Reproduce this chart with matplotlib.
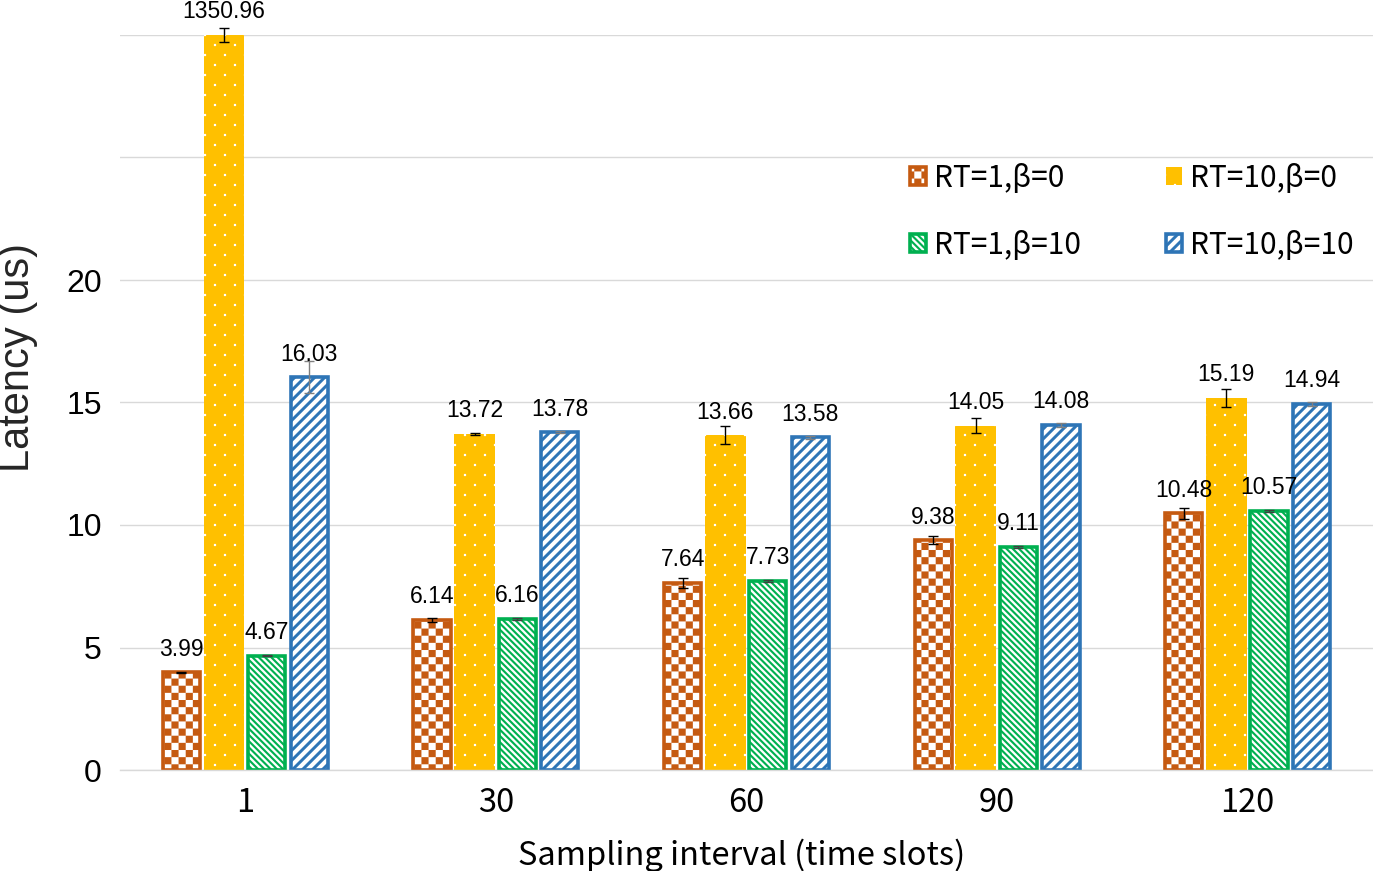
import numpy as np
import matplotlib
matplotlib.use("Agg")
import matplotlib.pyplot as plt
import matplotlib.hatch as mhatch
from matplotlib.path import Path

# ---------------- data ----------------
categories = ["1", "30", "60", "90", "120"]
series_names = ["RT=1,β=0", "RT=10,β=0", "RT=1,β=10", "RT=10,β=10"]
rt1_b0 = [3.99, 6.14, 7.64, 9.38, 10.48]
rt10_b0 = [1350.96, 13.72, 13.66, 14.05, 15.19]
rt1_b10 = [4.67, 6.16, 7.73, 9.11, 10.57]
rt10_b10 = [16.03, 13.78, 13.58, 14.08, 14.94]
err_rt1_b0 = [0.03, 0.08, 0.20, 0.17, 0.22]
err_rt10_b0 = [0.30, 0.03, 0.37, 0.30, 0.37]
err_rt1_b10 = [0.03, 0.03, 0.04, 0.04, 0.04]
err_rt10_b10 = [0.65, 0.04, 0.05, 0.07, 0.07]
ytick_values = [0, 5, 10, 15, 20, 25, 30]
ytick_labels = ["0", "5", "10", "15", "20", "", ""]

# ---------------- custom hatch patterns ----------------
def _polys_to_path(polys):
    verts, codes = [], []
    for p in polys:
        verts.extend(p)
        verts.append(p[0])
        codes.extend([Path.MOVETO] + [Path.LINETO] * (len(p) - 1) + [Path.CLOSEPOLY])
    return np.array(verts, float), np.array(codes, Path.code_type)


class _CustomHatch(mhatch.HatchPatternBase):
    key = ""

    def __init__(self, hatch, density):
        if self.key and self.key in hatch:
            self._v, self._c = _polys_to_path(self.polys())
        else:
            self._v, self._c = np.empty((0, 2)), np.empty(0, Path.code_type)
        self.num_vertices = len(self._v)

    def set_vertices_and_codes(self, vertices, codes):
        vertices[:] = self._v
        codes[:] = self._c


class Checker(_CustomHatch):
    key = "o"

    def polys(self):
        n = 14
        out = []
        for i in range(n):
            for j in range(n):
                if (i + j) % 2 == 0:
                    out.append([(i / n, j / n), ((i + 1) / n, j / n),
                                ((i + 1) / n, (j + 1) / n), (i / n, (j + 1) / n)])
        return out


class Dots(_CustomHatch):
    key = "."

    def polys(self):
        R, C, s = 10, 5, 0.011
        out = []
        for r in range(R):
            y = (r + 0.5) / R
            for c in range(C):
                x = ((c + 0.25 + 0.5 * (r % 2)) / C) % 1.0
                out.append([(x - s, y - s), (x + s, y - s), (x + s, y + s), (x - s, y + s)])
        return out


class BandsNE(_CustomHatch):
    key = "/"

    def polys(self):
        n, w = 10, 0.042
        return [[(k / n, 0), (k / n + w, 0), (k / n + w + 1, 1), (k / n + 1, 1)]
                for k in range(-n - 1, n + 1)]


class BandsNW(_CustomHatch):
    key = "\\"

    def polys(self):
        n, w = 16, 0.030
        return [[(k / n, 1), (k / n + w, 1), (k / n + w + 1, 0), (k / n + 1, 0)]
                for k in range(-n - 1, n + 1)]


mhatch._hatch_types = [Checker, Dots, BandsNE, BandsNW]
plt.rcParams["hatch.linewidth"] = 0.01

SANS = ["Liberation Sans", "DejaVu Sans"]
CJK = ["Noto Sans CJK SC", "DejaVu Sans"]

# ---------------- figure ----------------
W, H = 1373, 871
fig = plt.figure(figsize=(W / 100, H / 100), dpi=100)
ax = fig.add_axes([120 / W, (H - 770) / H, (W - 120) / W, (770 - 35) / H])

YMAX = 30
x = np.arange(len(categories))
pitch = 0.170

colors = ["#C55A11", "#FFC000", "#00B050", "#2E75B6"]
hatches = ["o", ".", "\\", "/"]
values = [rt1_b0, rt10_b0, rt1_b10, rt10_b10]
errors = [err_rt1_b0, err_rt10_b0, err_rt1_b10, err_rt10_b10]
err_colors = ["black", "black", "#404040", "#7f7f7f"]

handles = []
for i, (vals, errs, col, hat) in enumerate(zip(values, errors, colors, hatches)):
    pos = x + (i - 1.5) * pitch
    if i == 1:
        b = ax.bar(pos, vals, width=0.163, color=col, edgecolor="white",
                   linewidth=0, hatch=hat, label=series_names[i], zorder=2)
    else:
        b = ax.bar(pos, vals, width=0.148, facecolor="white", edgecolor=col,
                   linewidth=2.6, hatch=hat, label=series_names[i], zorder=2)
    handles.append(b)
    shown = np.minimum(vals, YMAX)
    ax.errorbar(pos, shown, yerr=errs, fmt="none", ecolor=err_colors[i],
                elinewidth=1.0, capsize=3.5, capthick=1.0, zorder=3, clip_on=False)
    for px, v, sh in zip(pos, vals, shown):
        ax.annotate(f"{v:.2f}", (px, sh), xytext=(0, 12), textcoords="offset points",
                    ha="center", va="baseline", fontsize=16.5, family=SANS,
                    color="black", annotation_clip=False)

ax.set_xlim(-0.5, len(categories) - 0.5)
ax.set_ylim(0, YMAX)
ax.set_xticks(x)
ax.set_xticklabels(categories, fontsize=23.5, family=CJK)
ax.set_yticks(ytick_values)
ax.set_yticklabels(ytick_labels, fontsize=23, family=SANS)
ax.tick_params(axis="both", length=0)
ax.tick_params(axis="x", pad=12)
ax.tick_params(axis="y", pad=13)
ax.grid(axis="y", color="#d9d9d9", linewidth=1.0, zorder=0)
ax.set_axisbelow(True)
for s in ["top", "right", "left"]:
    ax.spines[s].set_visible(False)
ax.spines["bottom"].set_color("#d9d9d9")
ax.spines["bottom"].set_linewidth(1.0)

fig.text(18 / W, 1 - 357 / H, "Latency (us)", rotation=90, ha="center", va="center",
         fontsize=30, color="#262626", family=SANS)
fig.text(742 / W, 1 - 855 / H, "Sampling interval (time slots)", ha="center", va="center",
         fontsize=23.5, color="black", family=CJK)

order = [0, 2, 1, 3]
leg = ax.legend([handles[k] for k in order], [series_names[k] for k in order],
                ncol=2, loc="upper left", bbox_to_anchor=(910 / W, 1 - 163 / H),
                bbox_transform=fig.transFigure, frameon=False, borderpad=0,
                borderaxespad=0, handlelength=0.55, handleheight=0.55,
                handletextpad=0.25, columnspacing=2.85, labelspacing=1.2,
                prop={"family": CJK, "size": 21.5})

fig.savefig("out.png", dpi=100)
